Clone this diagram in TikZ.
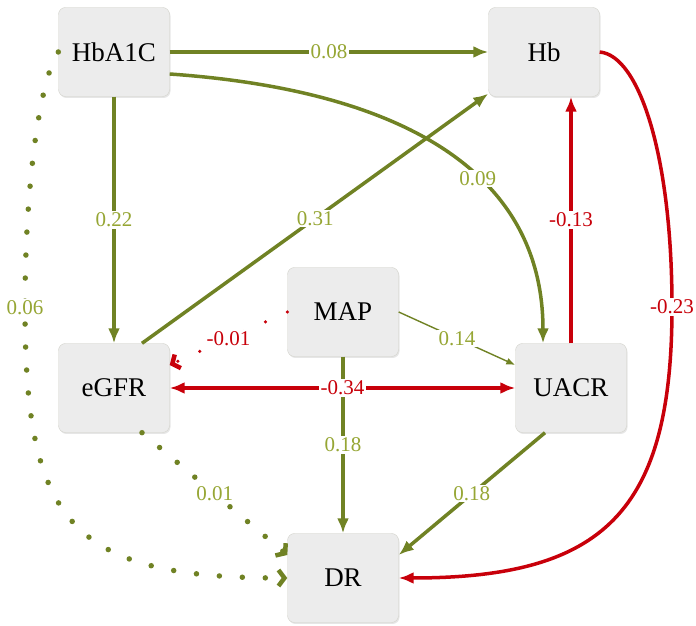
\documentclass[tikz,border=0pt]{standalone}
\usepackage{fontspec}
\setmainfont{Liberation Serif}
\usetikzlibrary{arrows,arrows.meta,shapes,positioning,shadows}
\definecolor{pathgreen}{RGB}{112,130,36}
\definecolor{labelgreen}{RGB}{150,166,52}
\definecolor{pathred}{RGB}{200,0,10}
\definecolor{boxfill}{RGB}{236,236,236}
\definecolor{boxline}{RGB}{210,210,202}
\tikzset{
    var/.style={rectangle, draw=boxline, fill=boxfill, rounded corners=7pt, minimum width=111pt, minimum height=89pt, font=\fontsize{27}{30}\selectfont, drop shadow={opacity=0.2, shadow xshift=1pt, shadow yshift=-1.5pt}},
    tip/.style={-{Latex[length=15pt, width=12pt]}},
    pos path/.style={draw=pathgreen, line width=3.5pt, tip},
    neg path/.style={draw=pathred, line width=3.5pt, tip},
    weak path/.style={draw=pathgreen, line width=1.4pt, -{Latex[length=9pt, width=7pt]}},
    dot path/.style={draw=pathgreen, line width=5.5pt, line cap=round, dash pattern=on 0pt off 23pt, -{Straight Barb[length=6pt, width=16pt, line width=4.5pt, line cap=butt]}},
    neg dot path/.style={draw=pathred, line width=3.5pt, line cap=round, dash pattern=on 0pt off 24pt, -{Straight Barb[length=6pt, width=15pt, line width=4.5pt, line cap=butt]}},
    coef/.style={fill=white, inner sep=1.5pt, font=\fontsize{21}{24}\selectfont, text=labelgreen},
    neg coef/.style={coef, text=pathred}
}
\begin{document}
\begin{tikzpicture}[x=1pt, y=1pt]
    \useasboundingbox (0,0) rectangle (696,626);
    \node[var] (hba) at (114,574) {HbA1C};
    \node[var] (hb) at (544,574) {Hb};
    \node[var] (map) at (343,314) {MAP};
    \node[var] (egfr) at (114,238) {eGFR};
    \node[var] (uacr) at (571,238) {UACR};
    \node[var] (dr) at (343,48) {DR};
    \coordinate (c06) at (25,318);
    \coordinate (c23) at (672,319);

    \draw[pos path] (hba) -- node[coef]{0.08} (hb);
    \draw[pos path] (hba) -- node[coef]{0.22} (egfr);
    \draw[pos path] ([xshift=28pt]egfr.north) -- node[coef]{0.31} ([yshift=3pt]hb.south west);
    \draw[pos path] ([yshift=-22pt]hba.east) to[out=-4, in=90, out distance=230pt, in distance=173pt] node[coef, pos=0.6]{0.09} ([xshift=-28pt]uacr.north);
    \draw[dot path] (hba.west) to[out=235, in=90, out distance=30pt, in distance=130pt] (c06) node[coef]{0.06}
        to[out=-90, in=180, out distance=216pt, in distance=216pt] (dr.west);
    \draw[neg dot path] (map.west) -- node[neg coef]{-0.01} ([yshift=23pt]egfr.east);
    \draw[weak path] (map.east) -- node[coef]{0.14} ([yshift=23pt]uacr.west);
    \draw[pos path] (map) -- node[coef]{0.18} (dr);
    \draw[neg path, {Latex[length=15pt, width=12pt]}-{Latex[length=15pt, width=12pt]}] (egfr) -- node[neg coef]{-0.34} (uacr);
    \draw[pos path] ([xshift=-26pt]uacr.south) -- node[coef]{0.18} ([yshift=23pt]dr.east);
    \draw[dot path] ([xshift=28pt]egfr.south) -- node[coef]{0.01} ([yshift=23pt]dr.west);
    \draw[neg path] (uacr.north) -- node[neg coef]{-0.13} (uacr.north |- hb.south);
    \draw[neg path] (hb.east) to[out=-5, in=90, out distance=40pt, in distance=150pt] (c23) node[neg coef]{-0.23}
        to[out=-90, in=0, out distance=205pt, in distance=205pt] (dr.east);
\end{tikzpicture}
\end{document}
